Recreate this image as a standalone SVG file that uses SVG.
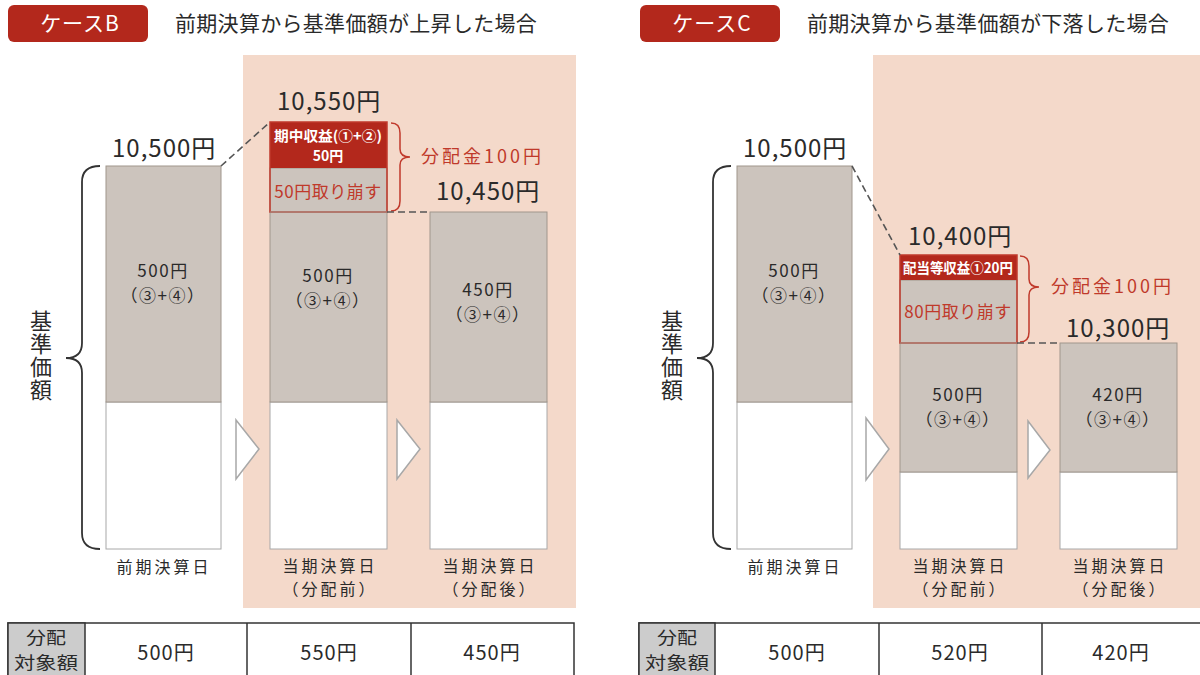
<svg xmlns="http://www.w3.org/2000/svg" width="1200" height="675" viewBox="0 0 1200 675">
<style>
text{font-family:"Noto Sans CJK JP","Noto Sans",sans-serif;fill:#2a2a2a}
.hdr{fill:#b3281c}
.hdrt{fill:#fff;font-size:21px;letter-spacing:1px;text-anchor:middle}
.title{font-size:21px;letter-spacing:0.3px}
.pink{fill:#f4d9ca}
.gray{fill:#ccc4bd;stroke:#a0968c;stroke-width:1}
.white{fill:#fff;stroke:#a8a8a8;stroke-width:1}
.val{font-size:24px;letter-spacing:1px}
.inb{font-size:17px;text-anchor:middle;letter-spacing:1.5px}
.lab{font-size:16px;text-anchor:middle;letter-spacing:3px}
.red{fill:#b3281c}
.redo{fill:none;stroke:#c0392b;stroke-width:1.5}
.redt{fill:#c0392b;font-size:17px;text-anchor:middle;letter-spacing:0.5px}
.wt{fill:#fff;font-size:14px;font-weight:bold;text-anchor:middle}
.dist{fill:#c0392b;font-size:18px;letter-spacing:3px}
.brace{fill:none;stroke:#333;stroke-width:1.8}
.rbrace{fill:none;stroke:#c0392b;stroke-width:1.5}
.dash{fill:none;stroke:#555;stroke-width:1.6;stroke-dasharray:7,4}
.tri{fill:#fff;stroke:#a8a8a8;stroke-width:1.5}
.tbl{fill:#fff;stroke:#333;stroke-width:1.5}
.tcell{fill:#cccccc;stroke:#333;stroke-width:1.5}
.tv{font-size:20px;text-anchor:middle;letter-spacing:1px}
.th{font-size:17px;text-anchor:middle}
.vt{font-size:22px;writing-mode:vertical-rl;letter-spacing:1px}
</style>

<!-- Case B -->
<g id="caseB-header">
<rect class="hdr" x="8" y="5" width="140" height="37" rx="6"/>
<text class="hdrt" x="80" y="31">ケースB</text>
<text class="title" x="175" y="31">前期決算から基準価額が上昇した場合</text>
</g>
<rect id="caseB-panel" class="pink" x="243" y="55" width="333" height="553"/>

<g id="caseB-axis">
<path class="brace" d="M100,166 Q82,166 82,182 L82,343 Q82,358 66,358 Q82,358 82,373 L82,533 Q82,549 100,549"/>
<text class="vt" x="41" y="310">基準価額</text>
</g>

<g id="caseB-bar1">
<rect class="white" x="106" y="402" width="115" height="147"/>
<rect class="gray" x="106" y="166" width="115" height="236"/>
<text class="val" x="112" y="157">10,500円</text>
<text class="inb" x="163" y="277">500円<tspan x="163" dy="25">（③+④）</tspan></text>
<text class="lab" x="164" y="573">前期決算日</text>
</g>

<g id="caseB-bar2">
<rect class="white" x="270" y="402" width="117" height="147"/>
<rect class="gray" x="270" y="168" width="117" height="234"/>
<rect class="red" x="270" y="122" width="117" height="46"/>
<rect class="redo" x="270" y="122" width="117" height="90"/>
<line x1="270" y1="212" x2="387" y2="212" stroke="#a0968c" stroke-width="1"/>
<text class="wt" x="328" y="141"><tspan textLength="108" lengthAdjust="spacingAndGlyphs">期中収益(①+②)</tspan><tspan x="328" dy="20">50円</tspan></text>
<text class="redt" x="328" y="198">50円取り崩す</text>
<text class="val" x="277" y="110">10,550円</text>
<text class="inb" x="328" y="282">500円<tspan x="328" dy="25">（③+④）</tspan></text>
<text class="lab" x="330" y="572">当期決算日<tspan x="330" dy="23">（分配前）</tspan></text>
<path class="rbrace" d="M391,123 Q400,123 400,133 L400,149 Q400,157 410,157 Q400,157 400,165 L400,201 Q400,211 391,211"/>
<text class="dist" x="421" y="163">分配金100円</text>
</g>

<g id="caseB-bar3">
<rect class="white" x="430" y="402" width="117" height="147"/>
<rect class="gray" x="430" y="212" width="117" height="190"/>
<text class="val" x="436" y="200">10,450円</text>
<text class="inb" x="488" y="296">450円<tspan x="488" dy="25">（③+④）</tspan></text>
<text class="lab" x="490" y="572">当期決算日<tspan x="490" dy="23">（分配後）</tspan></text>
</g>

<g id="caseB-table">
<rect class="tbl" x="8" y="623" width="566" height="60"/>
<rect class="tcell" x="8" y="623" width="77" height="60"/>
<line x1="247" y1="623" x2="247" y2="683" stroke="#333" stroke-width="1.5"/>
<line x1="411" y1="623" x2="411" y2="683" stroke="#333" stroke-width="1.5"/>
<text class="th" x="46" y="644"><tspan textLength="40" lengthAdjust="spacingAndGlyphs">分配</tspan><tspan x="46" dy="25" textLength="64" lengthAdjust="spacingAndGlyphs">対象額</tspan></text>
<text class="tv" x="166" y="660">500円</text>
<text class="tv" x="329" y="660">550円</text>
<text class="tv" x="492" y="660">450円</text>
</g>

<!-- Case C -->
<g id="caseC-header">
<rect class="hdr" x="640" y="5" width="140" height="37" rx="6"/>
<text class="hdrt" x="712" y="31">ケースC</text>
<text class="title" x="807" y="31">前期決算から基準価額が下落した場合</text>
</g>
<rect id="caseC-panel" class="pink" x="873" y="55" width="327" height="553"/>

<g id="caseC-axis">
<path class="brace" d="M731,166 Q713,166 713,182 L713,343 Q713,358 697,358 Q713,358 713,373 L713,533 Q713,549 731,549"/>
<text class="vt" x="672" y="310">基準価額</text>
</g>

<g id="caseC-bar1">
<rect class="white" x="737" y="402" width="115" height="147"/>
<rect class="gray" x="737" y="166" width="115" height="236"/>
<text class="val" x="743" y="157">10,500円</text>
<text class="inb" x="794" y="277">500円<tspan x="794" dy="25">（③+④）</tspan></text>
<text class="lab" x="795" y="573">前期決算日</text>
</g>

<g id="caseC-bar2">
<rect class="white" x="900" y="472" width="117" height="77"/>
<rect class="gray" x="900" y="280" width="117" height="192"/>
<rect class="red" x="900" y="255" width="117" height="25"/>
<rect class="redo" x="900" y="255" width="117" height="88"/>
<line x1="900" y1="343" x2="1017" y2="343" stroke="#a0968c" stroke-width="1"/>
<text class="wt" x="958" y="273" textLength="110" lengthAdjust="spacingAndGlyphs">配当等収益①20円</text>
<text class="redt" x="958" y="318">80円取り崩す</text>
<text class="val" x="908" y="245">10,400円</text>
<text class="inb" x="958" y="401">500円<tspan x="958" dy="25">（③+④）</tspan></text>
<text class="lab" x="960" y="572">当期決算日<tspan x="960" dy="23">（分配前）</tspan></text>
<path class="rbrace" d="M1020,256 Q1029,256 1029,266 L1029,279 Q1029,287 1039,287 Q1029,287 1029,295 L1029,332 Q1029,342 1020,342"/>
<text class="dist" x="1051" y="293">分配金100円</text>
</g>

<g id="caseC-bar3">
<rect class="white" x="1060" y="472" width="117" height="77"/>
<rect class="gray" x="1060" y="343" width="117" height="129"/>
<text class="val" x="1066" y="337">10,300円</text>
<text class="inb" x="1118" y="401">420円<tspan x="1118" dy="25">（③+④）</tspan></text>
<text class="lab" x="1120" y="572">当期決算日<tspan x="1120" dy="23">（分配後）</tspan></text>
</g>

<g id="caseC-table">
<rect class="tbl" x="639" y="623" width="575" height="60"/>
<rect class="tcell" x="639" y="623" width="76" height="60"/>
<line x1="879" y1="623" x2="879" y2="683" stroke="#333" stroke-width="1.5"/>
<line x1="1042" y1="623" x2="1042" y2="683" stroke="#333" stroke-width="1.5"/>
<text class="th" x="677" y="644"><tspan textLength="40" lengthAdjust="spacingAndGlyphs">分配</tspan><tspan x="677" dy="25" textLength="64" lengthAdjust="spacingAndGlyphs">対象額</tspan></text>
<text class="tv" x="797" y="660">500円</text>
<text class="tv" x="960" y="660">520円</text>
<text class="tv" x="1121" y="660">420円</text>
</g>

<g id="connectors">
<line class="dash" x1="221" y1="166" x2="270" y2="122"/>
<line class="dash" x1="387" y1="212" x2="430" y2="212"/>
<line class="dash" x1="852" y1="166" x2="900" y2="255"/>
<line class="dash" x1="1017" y1="343" x2="1060" y2="343"/>
<polygon class="tri" points="236,420 259,449 236,479"/>
<polygon class="tri" points="397,420 420,449 397,479"/>
<polygon class="tri" points="866,418 889,449 866,480"/>
<polygon class="tri" points="1028,421 1050,450 1028,478"/>
</g>
</svg>
